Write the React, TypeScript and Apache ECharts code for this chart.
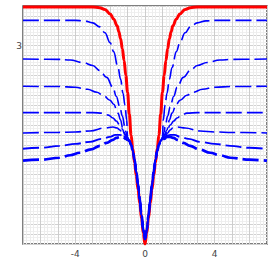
import React, { useEffect, useRef } from "react";
import * as echarts from "echarts";

// Values for x >= 0 (the curves are mirror-symmetric about x = 0)
const redX = [0, 0.1, 0.2, 0.3, 0.4, 0.5, 0.6, 0.7, 0.8, 0.9, 1.0, 1.1, 1.2, 1.3, 1.4, 1.5, 1.6, 1.8, 2.0, 2.3, 2.6, 3.0, 7.0];
const redY = [1.0, 1.11, 1.26, 1.41, 1.55, 1.69, 1.82, 1.96, 2.1, 2.31, 2.53, 2.7, 2.85, 2.97, 3.07, 3.14, 3.2, 3.27, 3.32, 3.365, 3.383, 3.39, 3.39];

// shared inner part of the blue curves
const innerX = [0, 0.1, 0.2, 0.3, 0.4, 0.5, 0.6, 0.7, 0.8, 0.9];
const innerY = [1.05, 1.14, 1.29, 1.45, 1.6, 1.73, 1.85, 1.94, 2.0, 2.04];

const blue1X = [1.0, 1.05, 1.15, 1.26, 1.4, 1.55, 1.8, 2.0, 2.3, 2.6, 3.0, 3.5, 4.0, 7.0];
const blue1Y = [2.07, 2.25, 2.4, 2.52, 2.66, 2.78, 2.94, 3.03, 3.13, 3.19, 3.23, 3.25, 3.255, 3.255];
const blue2X = [1.0, 1.1, 1.15, 1.3, 1.44, 1.65, 1.84, 2.2, 2.6, 3.0, 3.56, 4.3, 5.0, 7.0];
const blue2Y = [2.07, 2.13, 2.18, 2.29, 2.38, 2.49, 2.58, 2.68, 2.75, 2.8, 2.83, 2.855, 2.862, 2.865];
const blue3X = [1.0, 1.1, 1.26, 1.4, 1.55, 1.8, 2.01, 2.4, 2.76, 3.3, 4.0, 5.0, 7.0];
const blue3Y = [2.07, 2.1, 2.15, 2.25, 2.32, 2.41, 2.45, 2.5, 2.53, 2.56, 2.58, 2.588, 2.59];
const blue4X = [1.0, 1.15, 1.3, 1.44, 1.65, 1.84, 2.1, 2.41, 3.0, 7.0];
const blue4Y = [2.06, 2.1, 2.16, 2.2, 2.24, 2.27, 2.3, 2.32, 2.325, 2.325];
const blue5X = [1.0, 1.15, 1.3, 1.44, 1.6, 1.84, 2.3, 3.16, 4.0, 5.0, 7.0];
const blue5Y = [2.05, 2.08, 2.12, 2.15, 2.17, 2.18, 2.17, 2.14, 2.13, 2.125, 2.12];
const blue6X = [1.0, 1.1, 1.25, 1.44, 1.7, 2.01, 2.5, 3.16, 4.0, 4.89, 6.0, 7.0];
const blue6Y = [2.05, 2.07, 2.09, 2.1, 2.1, 2.08, 2.06, 2.03, 2.01, 1.99, 1.97, 1.96];
const blue7X = [1.0, 1.1, 1.25, 1.44, 1.65, 1.84, 2.2, 2.59, 3.1, 3.74, 4.3, 4.89, 6.0, 7.0];
const blue7Y = [2.05, 2.06, 2.08, 2.08, 2.07, 2.05, 2.02, 1.99, 1.955, 1.92, 1.895, 1.87, 1.85, 1.84];

const xTickLabels = [-4, 0, 4];
const yTickLabels = [3];

function mirror(xs: number[], ys: number[]): number[][] {
  const pts: number[][] = [];
  for (let i = xs.length - 1; i >= 0; i--) {
    if (xs[i] !== 0) pts.push([-xs[i], ys[i]]);
  }
  for (let i = 0; i < xs.length; i++) pts.push([xs[i], ys[i]]);
  return pts;
}

function blueCurve(xs: number[], ys: number[]): number[][] {
  return mirror(innerX.concat(xs), innerY.concat(ys));
}

export default function App() {
  const ref = useRef<HTMLDivElement>(null);
  useEffect(() => {
    if (!ref.current) return;
    const chart = echarts.init(ref.current, undefined, { renderer: "svg" });
    const blues = [
      [blue1X, blue1Y, 1.6],
      [blue2X, blue2Y, 1.6],
      [blue3X, blue3Y, 1.6],
      [blue4X, blue4Y, 1.6],
      [blue5X, blue5Y, 1.6],
      [blue6X, blue6Y, 1.9],
      [blue7X, blue7Y, 2.7],
    ] as [number[], number[], number][];
    const series: any[] = blues.map(([xs, ys, w]) => ({
      type: "line",
      data: blueCurve(xs, ys),
      showSymbol: false,
      smooth: 0.4,
      smoothMonotone: "x",
      lineStyle: { color: "#0000ff", width: w, type: [16, 5] },
      z: 3,
    }));
    series.push({
      type: "line",
      data: mirror(redX, redY),
      showSymbol: false,
      smooth: 0.4,
      smoothMonotone: "x",
      lineStyle: { color: "#ff0000", width: 3 },
      z: 2,
    });
    chart.setOption({
      animation: false,
      backgroundColor: "#ffffff",
      grid: {
        left: 23,
        right: 6,
        top: 6,
        bottom: 29,
        show: true,
        borderColor: "#555555",
        borderWidth: 1.5,
        backgroundColor: "#ffffff",
      },
      xAxis: {
        type: "value",
        min: -7,
        max: 7,
        interval: 1,
        axisLine: { show: false },
        axisTick: { show: false },
        axisLabel: {
          fontSize: 9,
          color: "#444",
          fontFamily: "DejaVu Sans",
          margin: 5,
          formatter: (v: number) => (xTickLabels.some((t) => Math.abs(t - v) < 1e-6) ? String(v) : ""),
        },
        splitLine: { show: true, lineStyle: { color: "#cdcdcd", width: 1 } },
        minorTick: { show: false, splitNumber: 5 },
        minorSplitLine: { show: true, lineStyle: { color: "#ededed", width: 1 } },
      },
      yAxis: {
        type: "value",
        min: 1,
        max: 3.4,
        interval: 0.1,
        axisLine: { show: false },
        axisTick: { show: false },
        axisLabel: {
          fontSize: 9,
          color: "#444",
          fontFamily: "DejaVu Sans",
          margin: 1,
          formatter: (v: number) => (yTickLabels.some((t) => Math.abs(t - v) < 1e-6) ? "3" : ""),
        },
        splitLine: { show: true, lineStyle: { color: "#d2d2d2", width: 1 } },
        minorTick: { show: false, splitNumber: 3 },
        minorSplitLine: { show: true, lineStyle: { color: "#f0f0f0", width: 1 } },
      },
      series,
    });
    return () => chart.dispose();
  }, []);
  return <div ref={ref} style={{ width: 273, height: 273, position: "absolute", left: 0, top: 0 }} />;
}
